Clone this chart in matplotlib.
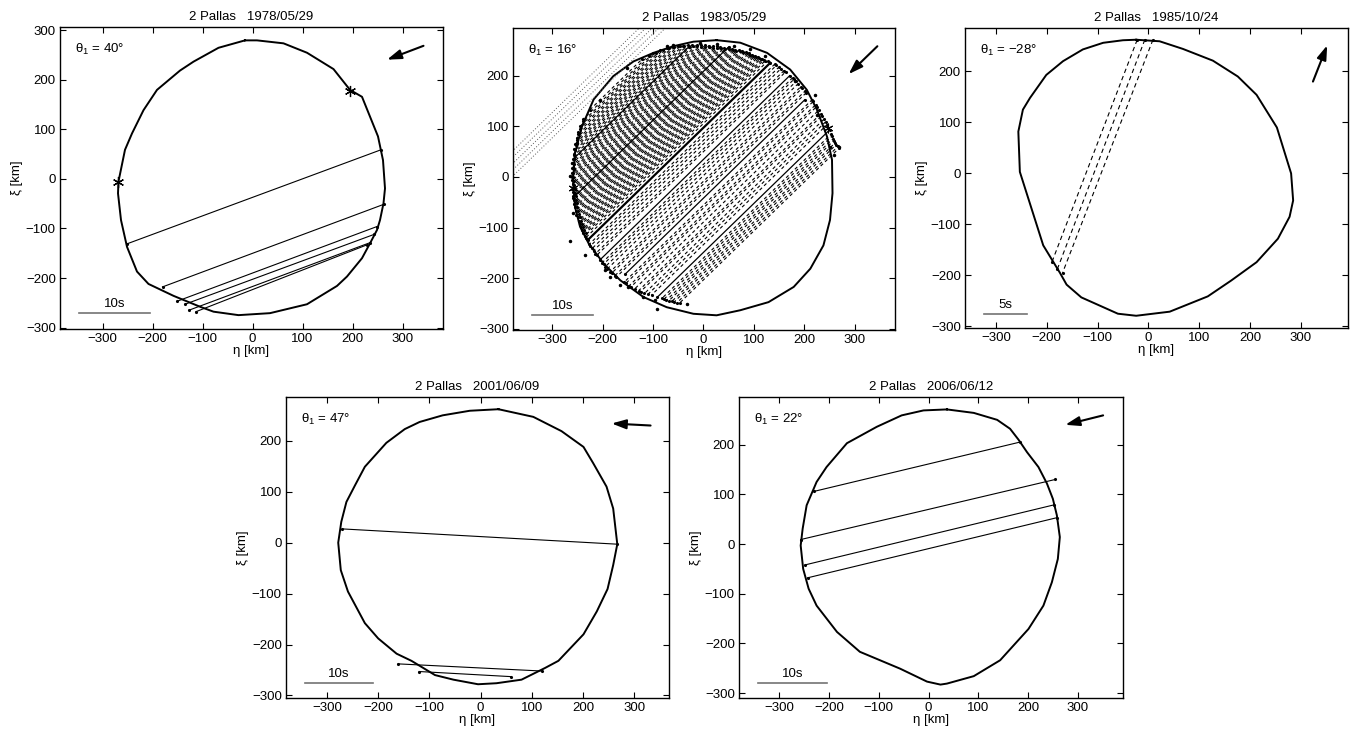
import numpy as np
import matplotlib.pyplot as plt
from matplotlib.ticker import MultipleLocator
from matplotlib.transforms import Affine2D

plt.rcParams['font.family'] = ['Liberation Sans', 'DejaVu Sans']
plt.rcParams['mathtext.fontset'] = 'custom'
plt.rcParams['mathtext.rm'] = 'Liberation Sans'
plt.rcParams['mathtext.default'] = 'regular'
plt.rcParams['font.size'] = 9.5

#---------------------------------------------------------------- Profiles (eta, xi in km) ----------------------------------------------------
# 1978/05/29
p1_eta = [-15, 9, 62, 109, 162, 195, 219, 235, 251, 261, 265, 262, 255, 249, 235, 219, 189, 169, 109, 35, -28, -78,
          -105, -158, -208, -231, -251, -263, -269, -268, -255, -241, -218, -191, -145, -118, -68, -15]
p1_xi = [280, 280, 274, 255, 222, 180, 166, 126, 86, 38, -19, -49, -83, -103, -130, -160, -197, -216, -253, -271, -275, -268,
         -258, -236, -212, -187, -137, -83, -29, -5, 59, 92, 139, 180, 219, 237, 265, 280]
p1_chord_eta0 = [-251, -180, -151, -135, -127, -113]
p1_chord_xi0 = [-131, -218, -247, -253, -265, -268]
p1_chord_eta1 = [257, 263, 249, 243, 234, 229]
p1_chord_xi1 = [59, -51, -96, -112, -129, -133]
p1_star_eta = [-270, 194]
p1_star_xi = [-7, 178]

# 1983/05/29
p2_eta = [26, 73, 126, 172, 205, 225, 245, 255, 256, 251, 238, 212, 179, 129, 73, 26, -20, -73, -119, -165, -198, -228,
          -245, -255, -259, -255, -241, -218, -179, -139, -99, -60, -20, 26]
p2_xi = [270, 265, 245, 212, 172, 133, 80, 34, -32, -85, -135, -181, -217, -247, -263, -273, -270, -257, -237, -204, -171,
         -131, -98, -59, -6, 47, 100, 153, 199, 228, 245, 258, 267, 270]
# chords along the shadow track: cross-track offset and along-track start / end (km)
p2_track_deg = 44
p2_dash_off = [252, 248, 245, 242, 239, 236, 233, 230, 227, 224, 221, 218, 215, 212, 209, 206, 203, 200, 197, 194,
               191, 188, 185, 182, 179, 176, 173, 170, 167, 164, 161, 158, 155, 152, 149, 146, 143, 140, 137, 134,
               131, 128, 125, 122, 119, 116, 113, 110, 107, 104, 101, 98, 95, 92, 89, 86, 83, 80, 76,
               62, 58, 52, 47, 40, 36, 18, 14, 8, 2, -6, -10, -18, -22, -40, -44, -52, -56, -64, -72, -76, -84, -90, -96,
               -115, -119, -124, -128, -133, -137, -142, -146]
p2_dash_s0 = [-70, -92, -96, -106, -110, -118, -120, -128, -130, -138, -138, -147, -147, -153, -155, -161, -160, -168, -168, -175,
              -174, -182, -180, -188, -186, -192, -190, -197, -195, -203, -200, -207, -205, -212, -208, -216, -213, -221, -217, -224,
              -222, -229, -226, -233, -229, -235, -232, -238, -235, -241, -238, -243, -240, -246, -243, -248, -245, -250, -251,
              -255, -256, -257, -258, -260, -260, -262, -262, -263, -263, -263, -263, -262, -262, -258, -257, -255, -254, -252, -248, -247, -244, -240, -236,
              -226, -224, -222, -220, -215, -213, -210, -207]
p2_dash_s1 = [75, 88, 98, 103, 112, 116, 124, 127, 134, 136, 143, 145, 150, 152, 158, 158, 165, 164, 171, 170,
              177, 175, 183, 181, 188, 186, 193, 191, 198, 197, 202, 202, 207, 207, 211, 212, 216, 216, 220, 220,
              224, 224, 228, 228, 231, 231, 234, 234, 237, 237, 239, 240, 242, 242, 244, 245, 247, 248, 250,
              256, 257, 258, 259, 261, 261, 263, 263, 263, 263, 263, 263, 262, 262, 261, 260, 259, 258, 256, 254, 253, 251, 250, 248,
              240, 239, 237, 236, 235, 234, 234, 234]
p2_solid_off = [205, 150, 70, 25, -30, -107]
p2_solid_s0 = [-160, -215, -252, -262, -245, -231]
p2_solid_s1 = [157, 214, 252, 262, 250, 245]
p2_dot_off = [264, 273, 282, 291, 300]
# scattered timings off the limb
p2_evt_eta = [-264, -258, -254, -235, -195, -185, -165, -149, -120, -96, -264, -261, -251, -205, -152, -73, -60, -7, 26, 60,
              93, 122, 182, 221, 225, 251, 268, 258, -33, -92]
p2_evt_xi = [-126, -71, -51, -154, -184, -197, -213, -217, -237, -243, 1, 27, 67, 152, 215, 258, 261, 265, 263, 258,
             252, 238, 189, 162, 123, 60, 60, 44, -250, -260]
p2_star_eta = [-258, 248]
p2_star_xi = [-22, 96]

# 1985/10/24
p3_eta = [-24, 22, 68, 127, 176, 213, 253, 281, 285, 278, 255, 213, 163, 117, 42, -24, -60, -132, -161, -174, -207,
          -253, -256, -247, -233, -201, -168, -129, -89, -50, -24]
p3_xi = [262, 259, 244, 221, 190, 154, 90, 0, -53, -85, -128, -174, -210, -241, -271, -279, -275, -243, -218, -195, -141,
         3, 82, 125, 148, 193, 220, 243, 256, 261, 262]
p3_chord_eta0 = [-22, -7, 9]
p3_chord_xi0 = [262, 262, 262]
p3_chord_eta1 = [-190, -179, -169]
p3_chord_xi1 = [-174, -187, -195]

# 2001/06/09
p4_eta = [35, 103, 158, 201, 220, 246, 259, 267, 259, 248, 227, 201, 152, 126, 80, 31, -5, -53, -89, -135, -164, -200,
          -226, -259, -273, -278, -272, -262, -245, -226, -184, -148, -119, -74, -21, 35]
p4_xi = [262, 247, 219, 188, 156, 110, 67, -3, -44, -91, -135, -180, -232, -246, -269, -276, -278, -269, -260, -232, -218, -188,
         -158, -96, -54, 0, 41, 80, 113, 149, 196, 223, 237, 250, 259, 262]
p4_chord_eta0 = [-270, -161, -120]
p4_chord_xi0 = [27, -238, -253]
p4_chord_eta1 = [267, 119, 59]
p4_chord_xi1 = [-3, -252, -263]

# 2006/06/12
p5_eta = [37, 91, 138, 164, 181, 198, 221, 238, 250, 258, 264, 260, 248, 231, 201, 144, 91, 37, 24, -3, -57, -138,
          -184, -225, -241, -252, -257, -253, -245, -225, -205, -164, -104, -54, -10, 37]
p5_xi = [271, 264, 250, 232, 210, 185, 155, 122, 91, 58, 14, -30, -77, -124, -171, -234, -266, -281, -283, -277, -251, -217,
         -177, -124, -90, -50, -3, 31, 78, 125, 155, 203, 236, 259, 269, 271]
p5_chord_eta0 = [-230, -257, -248, -243]
p5_chord_xi0 = [106, 9, -42, -68]
p5_chord_eta1 = [183, 255, 253, 258]
p5_chord_xi1 = [205, 130, 79, 53]

# titles, position angles, scale bars, motion arrows
titles = ['2 Pallas   1978/05/29', '2 Pallas   1983/05/29', '2 Pallas   1985/10/24',
          '2 Pallas   2001/06/09', '2 Pallas   2006/06/12']
theta1 = [40, 16, -28, 47, 22]
bar_text = ['10s', '10s', '5s', '10s', '10s']
bar_eta0 = [-347, -340, -323, -342, -343]
bar_eta1 = [-205, -219, -239, -211, -205]
bar_xi = [-271, -272, -275, -275, -280]
arrow_tail = [(342, 269), (345, 258), (324, 180), (332, 230), (351, 259)]
arrow_head = [(269, 241), (288, 203), (352, 251), (256, 234), (275, 240)]
xlims = [(-385, 381), (-378, 380), (-361, 393), (-380, 368), (-381, 391)]
ylims = [(-303, 307), (-302, 294), (-303, 285), (-305, 286), (-310, 296)]

#---------------------------------------------------------------- Figure ------------------------------------------------------------------------
W, H = 1359, 735
fig = plt.figure(figsize=(W / 100, H / 100), dpi=100)
boxes = [(60, 27, 443, 329), (513, 28, 895, 330), (965, 28, 1348, 328),
         (286, 397, 669, 698), (739, 397, 1123, 698)]
axs = []
for (l, t, r, b) in boxes:
  axs.append(fig.add_axes([l / W, 1 - b / H, (r - l) / W, (b - t) / H]))

ASTERISK = (6, 2, 0)

def style(ax, i):
  ax.set_xlim(*xlims[i])
  ax.set_ylim(*ylims[i])
  ax.xaxis.set_major_locator(MultipleLocator(100))
  ax.yaxis.set_major_locator(MultipleLocator(100))
  ax.tick_params(direction='in', length=4, width=0.8, top=True, right=True, labelsize=9.5, pad=3)
  for sp in ax.spines.values():
    sp.set_linewidth(1.0)
  ax.set_xlabel('η [km]', labelpad=0)
  ax.set_ylabel('ξ [km]', labelpad=2)
  ax.set_title(titles[i], fontsize=9.5, pad=5)
  lab = ('θ$_1$ = %d°' % theta1[i]).replace('-', '\u2212')
  ax.text(0.04, 0.95, lab, transform=ax.transAxes, ha='left', va='top', fontsize=9.5)
  # time scale bar
  ax.plot([bar_eta0[i], bar_eta1[i]], [bar_xi[i], bar_xi[i]], color='0.45', lw=1.2)
  ax.text((bar_eta0[i] + bar_eta1[i]) / 2, bar_xi[i] + 6, bar_text[i], ha='center', va='bottom', fontsize=9.5)
  # direction of motion
  ax.annotate('', xy=arrow_head[i], xytext=arrow_tail[i],
              arrowprops=dict(arrowstyle='-|>,head_length=0.9,head_width=0.3', lw=1.5, color='k', shrinkA=0, shrinkB=0))

def chords(ax, e0, x0, e1, x1, ls='-'):
  for a, b, c, d in zip(e0, x0, e1, x1):
    ax.plot([a, c], [b, d], color='k', lw=0.8, linestyle=ls)
    ax.plot([a, c], [b, d], 'k.', markersize=2.5)

# Fig 1
ax = axs[0]
ax.plot(p1_eta, p1_xi, 'k-', lw=1.4)
chords(ax, p1_chord_eta0, p1_chord_xi0, p1_chord_eta1, p1_chord_xi1)
ax.plot(p1_star_eta, p1_star_xi, 'k', linestyle='none', marker=ASTERISK, markersize=8, markeredgewidth=0.9)
style(ax, 0)

# Fig 2 - chords drawn in the track frame and rotated onto the sky plane
ax = axs[1]
ax.plot(p2_eta, p2_xi, 'k-', lw=1.4)
rot = Affine2D().rotate_deg(p2_track_deg) + ax.transData
for k, (d, s0, s1) in enumerate(zip(p2_dash_off, p2_dash_s0, p2_dash_s1)):
  # stagger the dash phase so neighbouring chords do not line up
  ax.plot([s0, s1], [d, d], color='k', lw=0.8, linestyle=((k * 1.7) % 5.5, (3, 2.5)), transform=rot)
  ax.plot([s0, s1], [d, d], 'k.', markersize=2.5, transform=rot)
for d, s0, s1 in zip(p2_solid_off, p2_solid_s0, p2_solid_s1):
  ax.plot([s0, s1], [d, d], color='k', lw=1.6 if d == 70 else 0.9, transform=rot)
  ax.plot([s0, s1], [d, d], 'k.', markersize=2.5, transform=rot)
for d in p2_dot_off:
  ax.plot([-700, 700], [d, d], color='0.35', lw=0.7, linestyle=(0, (1, 2)), transform=rot)
ax.plot(p2_evt_eta, p2_evt_xi, 'k.', markersize=3)
ax.plot(p2_star_eta, p2_star_xi, 'k', linestyle='none', marker=ASTERISK, markersize=7, markeredgewidth=0.8)
style(ax, 1)

# Fig 3
ax = axs[2]
ax.plot(p3_eta, p3_xi, 'k-', lw=1.4)
chords(ax, p3_chord_eta0, p3_chord_xi0, p3_chord_eta1, p3_chord_xi1, ls=(0, (4, 3)))
style(ax, 2)

# Fig 4
ax = axs[3]
ax.plot(p4_eta, p4_xi, 'k-', lw=1.4)
chords(ax, p4_chord_eta0, p4_chord_xi0, p4_chord_eta1, p4_chord_xi1)
style(ax, 3)

# Fig 5
ax = axs[4]
ax.plot(p5_eta, p5_xi, 'k-', lw=1.4)
chords(ax, p5_chord_eta0, p5_chord_xi0, p5_chord_eta1, p5_chord_xi1)
style(ax, 4)

plt.savefig('out.png', dpi=100)
